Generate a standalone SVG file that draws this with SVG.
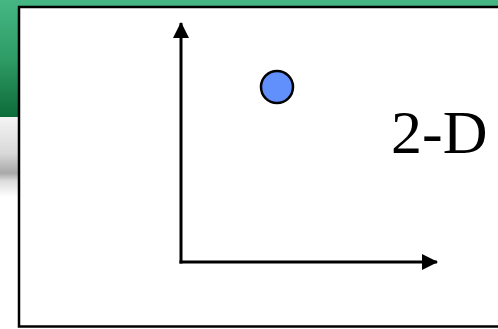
<svg xmlns="http://www.w3.org/2000/svg" width="498" height="329" viewBox="0 0 498 329">
<defs>
<linearGradient id="green" x1="0" y1="0" x2="0" y2="1">
<stop offset="0" stop-color="#45b784"/>
<stop offset="0.5" stop-color="#2f9c66"/>
<stop offset="1" stop-color="#0d6b3a"/>
</linearGradient>
<linearGradient id="gray" x1="0" y1="0" x2="0" y2="1">
<stop offset="0" stop-color="#f4f4f4"/>
<stop offset="0.45" stop-color="#d9d9d9"/>
<stop offset="0.7" stop-color="#a8a8a8"/>
<stop offset="0.8" stop-color="#dcdcdc"/>
<stop offset="1" stop-color="#ffffff"/>
</linearGradient>
<marker id="arr" markerWidth="16" markerHeight="16" viewBox="0 0 16 16" refX="15" refY="8" orient="auto" markerUnits="userSpaceOnUse">
<path d="M0,0 L16,8 L0,16 Z" fill="#000"/>
</marker>
<style>
.axis{stroke:#000;stroke-width:3;fill:none}
.lbl{font-family:"Liberation Serif","Times New Roman",serif;font-size:62px;fill:#000}
</style>
</defs>
<rect x="0" y="0" width="498" height="329" fill="#fff"/>
<rect x="0" y="0" width="498" height="117" fill="url(#green)"/>
<rect x="0" y="117" width="20" height="80" fill="url(#gray)"/>
<rect id="frame" x="19" y="7" width="490" height="319.5" fill="#fff" stroke="#000" stroke-width="2.5"/>
<g id="connectors">
<line class="axis" x1="181" y1="263.5" x2="181" y2="23" marker-end="url(#arr)"/>
<line class="axis" x1="179.5" y1="262" x2="437" y2="262" marker-end="url(#arr)"/>
</g>
<g id="point">
<circle cx="277" cy="87" r="16" fill="#6190fc" stroke="#000" stroke-width="2.5"/>
</g>
<g id="label">
<text class="lbl" x="391" y="153">2-D</text>
</g>
</svg>
